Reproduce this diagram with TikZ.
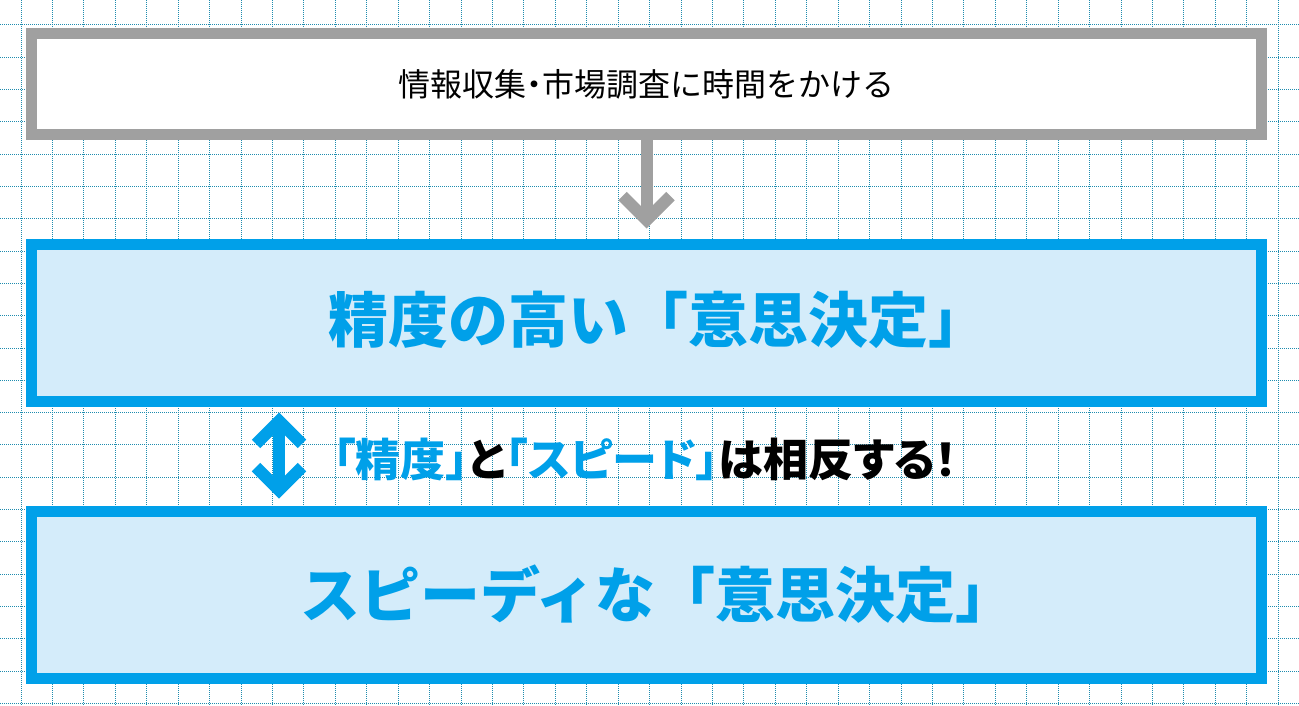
\documentclass[tikz,border=0pt]{standalone}
\usepackage{fontspec}
\newfontfamily\jpfont{Noto Sans CJK JP}
\newfontfamily\jppalt[RawFeature=+palt]{Noto Sans CJK JP}
\usetikzlibrary{arrows.meta}
\definecolor{frameblue}{RGB}{0,160,233}
\definecolor{fillblue}{RGB}{212,236,250}
\definecolor{framegray}{RGB}{160,160,160}
\definecolor{gridteal}{RGB}{30,140,175}
\begin{document}
\begin{tikzpicture}
    [%%%%%%%%%%%%%%%%%%%%%%%%%%%%%%
        x=1pt, y=-1pt,
        graybox/.style={rectangle,draw=framegray,line width=11pt,fill=white,minimum width=1230pt,minimum height=101pt,inner sep=0pt},
        bluebox/.style={rectangle,draw=frameblue,line width=11pt,fill=fillblue,minimum width=1230pt,inner sep=0pt},
        bigtext/.style={font=\jpfont\bfseries\fontsize{60}{60}\selectfont,text=frameblue},
        grayarrow/.style={draw=framegray,line width=12pt,-{Straight Barb[sharp,length=24pt,width=48pt]}},
        bluearrow/.style={draw=frameblue,line width=12pt,{Straight Barb[sharp,length=23pt,width=46pt]}-{Straight Barb[sharp,length=23pt,width=46pt]}},
        gridline/.style={gridteal,line width=1pt,dash pattern=on 1pt off 1pt},
    ]%%%%%%%%%%%%%%%%%%%%%%%%%%%%%%
\useasboundingbox (0,0) rectangle (1299,706);
\foreach \i in {0,...,40} \draw[gridline] (21+31.43*\i,0) -- (21+31.43*\i,706);
\foreach \j in {0,...,21} \draw[gridline] (0,25+32.3*\j) -- (1299,25+32.3*\j);

\node[graybox] (info) at (646.5,84) {\jpfont\fontsize{32}{32}\selectfont 情報収集{\jppalt ・}市場調査に時間をかける};
\node[bluebox, minimum height=157pt] (accuracy) at (646.5,322.5) {};
\node[bluebox, minimum height=167pt] (speed) at (646.5,594.5) {};
\node[bigtext] (accuracytext) at (658,320) {精度の高い「意思決定」};
\node[bigtext] (speedtext) at (658,594) {スピーディな「意思決定」};

\draw[grayarrow, shorten >=10pt] (info.south) -- (accuracy.north);
\draw[bluearrow, shorten <=6pt, shorten >=7pt] ([xshift=-367.5pt]accuracy.south) -- ([xshift=-367.5pt]speed.north);
\node[anchor=west, inner sep=0pt] (tradeoff) at (333,459) {\jppalt\bfseries\fontsize{45}{45}\selectfont\textcolor{frameblue}{「精度」}と\textcolor{frameblue}{「スピード」}は相反する！};

\end{tikzpicture}
\end{document}
